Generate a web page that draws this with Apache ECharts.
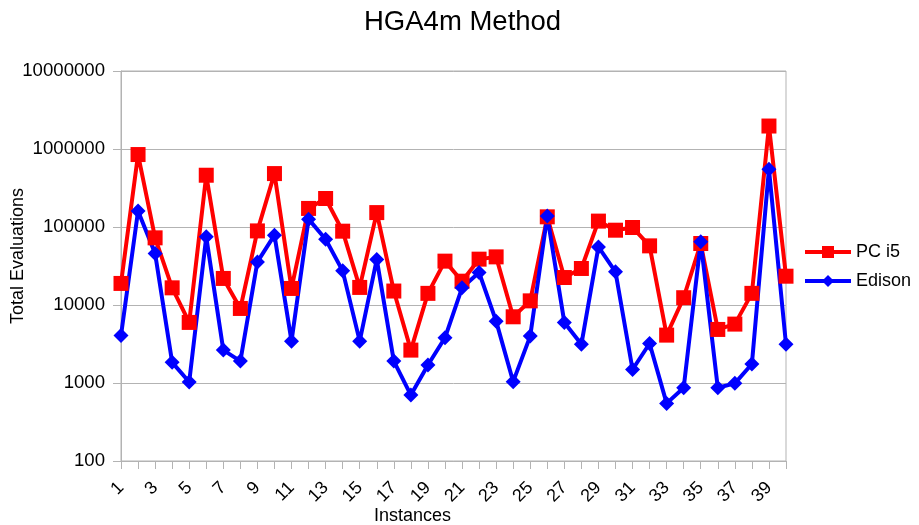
<!DOCTYPE html>
<html>
<head>
<meta charset="utf-8">
<script src="https://cdn.jsdelivr.net/npm/echarts@6/dist/echarts.min.js"></script>
<style>html,body{margin:0;padding:0;background:#fff;}#c{width:919px;height:525px;}</style>
</head>
<body>
<div id="c"></div>
<script>
const categories = ["1","2","3","4","5","6","7","8","9","10","11","12","13","14","15","16","17","18","19","20","21","22","23","24","25","26","27","28","29","30","31","32","33","34","35","36","37","38","39","40"];
const pcI5 = [18900, 849000, 72600, 16600, 5980, 461000, 21900, 9030, 89100, 484000, 16300, 173000, 232000, 88400, 16800, 153000, 15100, 2640, 14100, 36500, 20200, 38700, 41400, 7060, 11300, 135000, 22500, 29400, 119000, 91000, 98600, 57300, 4110, 12400, 61400, 4860, 5690, 14100, 1970000, 23400];
const edison = [4070, 160000, 45700, 1840, 1028, 74800, 2640, 1910, 35700, 78600, 3440, 126000, 69800, 27400, 3440, 38400, 1910, 700, 1700, 3800, 16600, 26100, 6210, 1040, 3990, 138000, 5980, 3130, 55600, 26600, 1490, 3210, 548, 869, 64600, 869, 989, 1750, 551000, 3130];
const yMin = 100, yMax = 10000000;

const chart = echarts.init(document.getElementById('c'), null, {renderer: 'canvas'});
const gray = '#b3b3b3';
const font = 'Liberation Sans';
chart.setOption({
  animation: false,
  backgroundColor: '#ffffff',
  title: {
    text: 'HGA4m Method',
    left: 364, top: 8, padding: 0,
    textStyle: {fontFamily: font, fontSize: 27.5, fontWeight: 'normal', color: '#000'}
  },
  legend: {
    orient: 'vertical',
    left: 803, top: 243, padding: 0,
    itemWidth: 46, itemHeight: 15, itemGap: 11,
    lineStyle: {width: 4},
    textStyle: {fontFamily: font, fontSize: 18, color: '#000'},
    data: ['PC i5', 'Edison']
  },
  grid: {left: 121, right: 133, top: 71, bottom: 64, show: true, borderColor: gray, borderWidth: 1, containLabel: false, outerBoundsMode: 'none'},
  xAxis: {
    type: 'category',
    data: categories,
    boundaryGap: false,
    name: 'Instances',
    nameLocation: 'middle',
    nameGap: 46,
    nameMoveOverlap: false,
    nameTextStyle: {fontFamily: font, fontSize: 18, color: '#000', padding: [0, 82, 0, 0]},
    axisLine: {lineStyle: {color: gray, width: 1}},
    axisTick: {show: true, interval: 0, length: 8, lineStyle: {color: gray}},
    axisLabel: {interval: 1, rotate: 45, margin: 24, fontFamily: font, fontSize: 18, color: '#000'},
    splitLine: {show: false}
  },
  yAxis: {
    type: 'log',
    logBase: 10,
    min: yMin, max: yMax,
    name: 'Total Evaluations',
    nameLocation: 'middle',
    nameGap: 94,
    nameMoveOverlap: false,
    nameTextStyle: {fontFamily: font, fontSize: 18, color: '#000', padding: [0, 0, 0, 20]},
    axisLine: {show: true, lineStyle: {color: gray, width: 1}},
    axisTick: {show: true, length: 8, lineStyle: {color: gray}},
    axisLabel: {margin: 16, fontFamily: font, fontSize: 18.6, color: '#000', formatter: v => String(Math.round(v))},
    splitLine: {show: true, lineStyle: {color: gray, width: 1}},
    minorTick: {show: false}
  },
  series: [
    {
      name: 'PC i5', type: 'line', data: pcI5,
      symbol: 'rect', symbolSize: 15, showAllSymbol: true,
      lineStyle: {color: '#ff0000', width: 4},
      itemStyle: {color: '#ff0000'}
    },
    {
      name: 'Edison', type: 'line', data: edison,
      symbol: 'diamond', symbolSize: 15, showAllSymbol: true,
      lineStyle: {color: '#0000ff', width: 4},
      itemStyle: {color: '#0000ff'}
    }
  ]
});
</script>
</body>
</html>
